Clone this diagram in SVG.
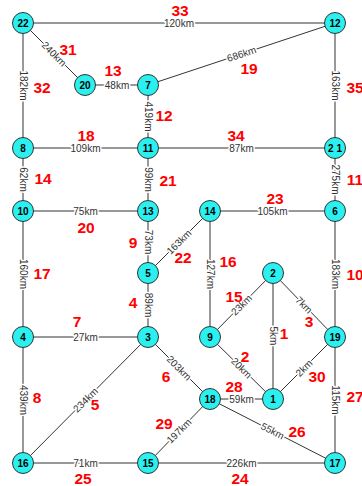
<svg xmlns="http://www.w3.org/2000/svg" width="362" height="486" viewBox="0 0 362 486">
<style>
.e{stroke:#333;stroke-width:1;fill:none}
.n circle{fill:#2AF0F0;stroke:#333;stroke-width:1}
.n text{font-family:"Liberation Sans",Arial,sans-serif;font-weight:bold;font-size:10px;fill:#000;text-anchor:middle;dominant-baseline:central}
.l{font-family:"Liberation Sans",Arial,sans-serif;font-size:10px;fill:#333;text-anchor:middle;dominant-baseline:central;paint-order:stroke;stroke:#fff;stroke-width:3px;stroke-linejoin:round}
.r{font-family:"Liberation Sans",Arial,sans-serif;font-weight:bold;font-size:15.5px;fill:#F00;text-anchor:middle;dominant-baseline:central}
</style>
<rect width="362" height="486" fill="#fff"/>
<g id="connectors">
<line class="e" x1="23" y1="23" x2="335" y2="23"/>
<line class="e" x1="23" y1="23" x2="85" y2="85"/>
<line class="e" x1="23" y1="23" x2="23" y2="148"/>
<line class="e" x1="85" y1="85" x2="148" y2="85"/>
<line class="e" x1="148" y1="85" x2="335" y2="23"/>
<line class="e" x1="148" y1="85" x2="148" y2="148"/>
<line class="e" x1="335" y1="23" x2="335" y2="148"/>
<line class="e" x1="23" y1="148" x2="335" y2="148"/>
<line class="e" x1="23" y1="148" x2="23" y2="463"/>
<line class="e" x1="148" y1="148" x2="148" y2="337"/>
<line class="e" x1="335" y1="148" x2="335" y2="463"/>
<line class="e" x1="23" y1="211" x2="148" y2="211"/>
<line class="e" x1="210" y1="211" x2="335" y2="211"/>
<line class="e" x1="210" y1="211" x2="148" y2="273"/>
<line class="e" x1="210" y1="211" x2="210" y2="337"/>
<line class="e" x1="210" y1="337" x2="273" y2="273"/>
<line class="e" x1="273" y1="273" x2="335" y2="337"/>
<line class="e" x1="273" y1="273" x2="273" y2="399"/>
<line class="e" x1="23" y1="337" x2="148" y2="337"/>
<line class="e" x1="210" y1="337" x2="273" y2="399"/>
<line class="e" x1="335" y1="337" x2="273" y2="399"/>
<line class="e" x1="148" y1="337" x2="210" y2="399"/>
<line class="e" x1="148" y1="337" x2="23" y2="463"/>
<line class="e" x1="210" y1="399" x2="273" y2="399"/>
<line class="e" x1="210" y1="399" x2="148" y2="463"/>
<line class="e" x1="210" y1="399" x2="335" y2="463"/>
<line class="e" x1="23" y1="463" x2="335" y2="463"/>
<text class="l" transform="translate(179,23)">120km</text>
<text class="l" transform="translate(54,54) rotate(45)">240km</text>
<text class="l" transform="translate(23,85.5) rotate(90)">182km</text>
<text class="l" transform="translate(117,85)">48km</text>
<text class="l" transform="translate(241.5,54) rotate(-18.3)">686km</text>
<text class="l" transform="translate(148,116.5) rotate(90)">419km</text>
<text class="l" transform="translate(335,85.5) rotate(90)">163km</text>
<text class="l" transform="translate(85.5,148)">109km</text>
<text class="l" transform="translate(241.5,148)">87km</text>
<text class="l" transform="translate(23,179.5) rotate(90)">62km</text>
<text class="l" transform="translate(148,179.5) rotate(90)">99km</text>
<text class="l" transform="translate(335,179.5) rotate(90)">275km</text>
<text class="l" transform="translate(85.5,211)">75km</text>
<text class="l" transform="translate(272.5,211)">105km</text>
<text class="l" transform="translate(148,242) rotate(90)">73km</text>
<text class="l" transform="translate(179,242) rotate(-45)">163km</text>
<text class="l" transform="translate(210,274) rotate(90)">127km</text>
<text class="l" transform="translate(335,274) rotate(90)">183km</text>
<text class="l" transform="translate(23,274) rotate(90)">160km</text>
<text class="l" transform="translate(148,305) rotate(90)">89km</text>
<text class="l" transform="translate(241.5,305) rotate(-45)">23km</text>
<text class="l" transform="translate(304,305) rotate(45)">7km</text>
<text class="l" transform="translate(273,336) rotate(90)">5km</text>
<text class="l" transform="translate(85.5,337)">27km</text>
<text class="l" transform="translate(241.5,368) rotate(45)">20km</text>
<text class="l" transform="translate(304,368) rotate(-45)">2km</text>
<text class="l" transform="translate(179,368) rotate(45)">203km</text>
<text class="l" transform="translate(23,400) rotate(90)">439km</text>
<text class="l" transform="translate(85.5,400) rotate(-45)">234km</text>
<text class="l" transform="translate(335,400) rotate(90)">115km</text>
<text class="l" transform="translate(241.5,399)">59km</text>
<text class="l" transform="translate(179,431) rotate(-45)">197km</text>
<text class="l" transform="translate(272.5,431) rotate(27)">55km</text>
<text class="l" transform="translate(85.5,463)">71km</text>
<text class="l" transform="translate(241.5,463)">226km</text>
</g>
<g id="edge-numbers">
<text class="r" x="284" y="333">1</text>
<text class="r" x="245" y="356">2</text>
<text class="r" x="309" y="321">3</text>
<text class="r" x="133" y="302">4</text>
<text class="r" x="95" y="404">5</text>
<text class="r" x="166" y="376">6</text>
<text class="r" x="77" y="321">7</text>
<text class="r" x="37" y="397">8</text>
<text class="r" x="133" y="242">9</text>
<text class="r" x="355" y="274">10</text>
<text class="r" x="355" y="179">11</text>
<text class="r" x="164" y="115">12</text>
<text class="r" x="113" y="70">13</text>
<text class="r" x="43" y="178">14</text>
<text class="r" x="234" y="296">15</text>
<text class="r" x="228" y="261">16</text>
<text class="r" x="42" y="273">17</text>
<text class="r" x="86" y="135">18</text>
<text class="r" x="249" y="68">19</text>
<text class="r" x="86" y="227">20</text>
<text class="r" x="168" y="180">21</text>
<text class="r" x="183" y="257">22</text>
<text class="r" x="275" y="198">23</text>
<text class="r" x="240" y="478">24</text>
<text class="r" x="83" y="478">25</text>
<text class="r" x="297" y="431">26</text>
<text class="r" x="355" y="396">27</text>
<text class="r" x="234" y="386">28</text>
<text class="r" x="164" y="423">29</text>
<text class="r" x="317" y="376">30</text>
<text class="r" x="68" y="49">31</text>
<text class="r" x="42" y="87">32</text>
<text class="r" x="180" y="10">33</text>
<text class="r" x="236" y="135">34</text>
<text class="r" x="355" y="87">35</text>
</g>
<g id="node-22" class="n"><circle cx="23" cy="23" r="10.5"/><text x="23" y="23">22</text></g>
<g id="node-12" class="n"><circle cx="335" cy="23" r="10.5"/><text x="335" y="23">12</text></g>
<g id="node-20" class="n"><circle cx="85" cy="85" r="10.5"/><text x="85" y="85">20</text></g>
<g id="node-7" class="n"><circle cx="148" cy="85" r="10.5"/><text x="148" y="85">7</text></g>
<g id="node-8" class="n"><circle cx="23" cy="148" r="10.5"/><text x="23" y="148">8</text></g>
<g id="node-11" class="n"><circle cx="148" cy="148" r="10.5"/><text x="148" y="148">11</text></g>
<g id="node-21" class="n"><circle cx="335" cy="148" r="10.5"/><text x="335" y="148">2 1</text></g>
<g id="node-10" class="n"><circle cx="23" cy="211" r="10.5"/><text x="23" y="211">10</text></g>
<g id="node-13" class="n"><circle cx="148" cy="211" r="10.5"/><text x="148" y="211">13</text></g>
<g id="node-14" class="n"><circle cx="210" cy="211" r="10.5"/><text x="210" y="211">14</text></g>
<g id="node-6" class="n"><circle cx="335" cy="211" r="10.5"/><text x="335" y="211">6</text></g>
<g id="node-5" class="n"><circle cx="148" cy="273" r="10.5"/><text x="148" y="273">5</text></g>
<g id="node-2" class="n"><circle cx="273" cy="273" r="10.5"/><text x="273" y="273">2</text></g>
<g id="node-4" class="n"><circle cx="23" cy="337" r="10.5"/><text x="23" y="337">4</text></g>
<g id="node-3" class="n"><circle cx="148" cy="337" r="10.5"/><text x="148" y="337">3</text></g>
<g id="node-9" class="n"><circle cx="210" cy="337" r="10.5"/><text x="210" y="337">9</text></g>
<g id="node-19" class="n"><circle cx="335" cy="337" r="10.5"/><text x="335" y="337">19</text></g>
<g id="node-18" class="n"><circle cx="210" cy="399" r="10.5"/><text x="210" y="399">18</text></g>
<g id="node-1" class="n"><circle cx="273" cy="399" r="10.5"/><text x="273" y="399">1</text></g>
<g id="node-16" class="n"><circle cx="23" cy="463" r="10.5"/><text x="23" y="463">16</text></g>
<g id="node-15" class="n"><circle cx="148" cy="463" r="10.5"/><text x="148" y="463">15</text></g>
<g id="node-17" class="n"><circle cx="335" cy="463" r="10.5"/><text x="335" y="463">17</text></g>
</svg>
